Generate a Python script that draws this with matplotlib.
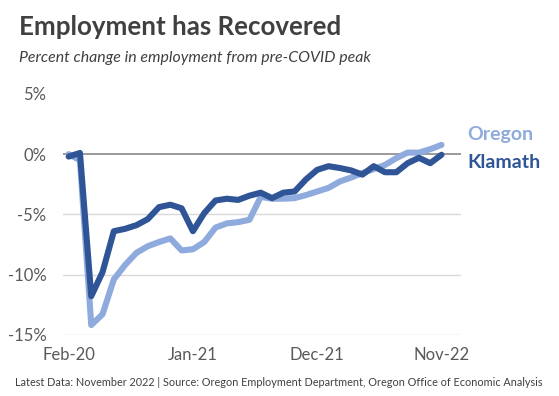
import numpy as np
import pandas as pd
import matplotlib.pyplot as plt

# monthly percent change from pre-COVID peak, Feb-20 .. Nov-22
months = pd.date_range("2020-02-01", periods=34, freq="MS")
oregon = [0.0, -0.5, -14.2, -13.3, -10.4, -9.2, -8.2, -7.65, -7.3, -7.0, -8.0, -7.9,
          -7.3, -6.1, -5.75, -5.65, -5.45, -3.55, -3.7, -3.7, -3.65, -3.4, -3.1, -2.8,
          -2.27, -1.94, -1.57, -1.24, -0.89, -0.33, 0.13, 0.13, 0.41, 0.77]
klamath = [-0.2, 0.1, -11.8, -9.8, -6.4, -6.2, -5.9, -5.4, -4.4, -4.2, -4.5, -6.4,
           -4.9, -3.85, -3.7, -3.8, -3.45, -3.2, -3.65, -3.2, -3.1, -2.1, -1.3, -1.0,
           -1.15, -1.35, -1.7, -1.0, -1.5, -1.5, -0.75, -0.3, -0.75, -0.05]
yticks = [5, 0, -5, -10, -15]
xtick_labels = [m.strftime("%b-%y") for m in months[::11]]

plt.rcParams['font.family'] = ['Lato', 'DejaVu Sans']

light = "#8FAADC"
dark = "#2F5597"
txt = "#404040"

fig = plt.figure(figsize=(5.59, 3.96), dpi=100)
W, H = 559, 396
ax = fig.add_axes([63 / W, 1 - 334.7 / H, (460.7 - 63) / W, (334.7 - 94) / H])

x = np.arange(len(months))
ax.plot(x, oregon, color=light, lw=4.4, solid_joinstyle="round", solid_capstyle="round", zorder=3)
ax.plot(x, klamath, color=dark, lw=4.4, solid_joinstyle="round", solid_capstyle="round", zorder=4)

ax.set_xlim(-0.5, 34.7)
ax.set_ylim(-15, 5)
for y in yticks[1:]:
    if y == 0:
        ax.axhline(0, color="#7F7F7F", lw=1.1, zorder=2)
    else:
        ax.axhline(y, color="#D9D9D9", lw=1.0, zorder=1)

ax.set_yticks(yticks)
ax.set_yticklabels([f"{v}%" for v in yticks])
ax.set_xticks(x[::11])
ax.set_xticklabels(xtick_labels)
ax.tick_params(length=0, labelsize=12, labelcolor="#595959")
ax.tick_params(axis="y", pad=12)
ax.tick_params(axis="x", pad=9)
for s in ax.spines.values():
    s.set_visible(False)

fig.text(19 / W, 1 - 27 / H, "Employment has Recovered", fontsize=18.6, fontweight="bold",
         color=txt, va="center")
fig.text(19 / W, 1 - 58 / H, "Percent change in employment from pre-COVID peak", fontsize=11.4,
         style="italic", color=txt, va="center")
fig.text(467 / W, 1 - 135 / H, "Oregon", fontsize=14, fontweight="bold", color=light, va="center")
fig.text(467 / W, 1 - 163 / H, "Klamath", fontsize=14, fontweight="bold", color=dark, va="center")
fig.text(279 / W, 1 - 383 / H,
         "Latest Data: November 2022 | Source: Oregon Employment Department, Oregon Office of Economic Analysis",
         fontsize=7.8, color=txt, ha="center", va="center")

fig.savefig("out.png", dpi=100)
